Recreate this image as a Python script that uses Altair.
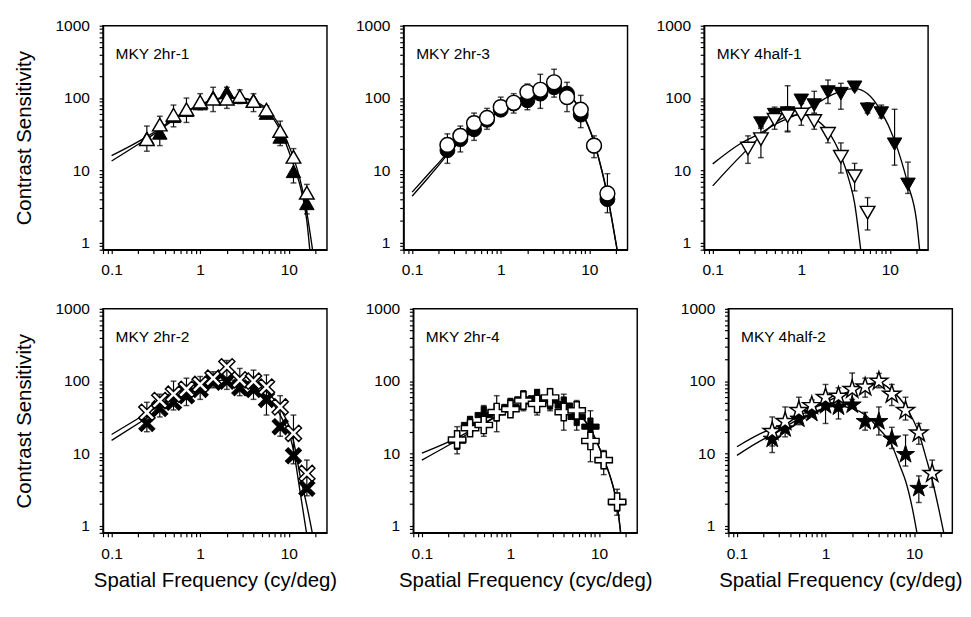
import altair as alt
import pandas as pd

FONT = "Liberation Sans"

FREQ = [0.25, 0.35, 0.5, 0.7, 1, 1.4, 2, 2.8, 4, 5.6, 8, 11.3, 16]

X_MAJOR = [0.1, 1, 10]
X_MINOR = [0.08, 0.09, 0.2, 0.3, 0.4, 0.5, 0.6, 0.7, 0.8, 0.9,
           2, 3, 4, 5, 6, 7, 8, 9, 20]
Y_MAJOR = [1, 10, 100, 1000]
Y_MINOR = [0.8, 0.9, 2, 3, 4, 5, 6, 7, 8, 9, 20, 30, 40, 50, 60, 70, 80, 90,
           200, 300, 400, 500, 600, 700, 800, 900]
X_DOMAIN = [0.08, 27]
Y_DOMAIN = [0.8, 1000]

PANEL_NAMES = ["MKY 2hr-1", "MKY 2hr-3", "MKY 4half-1",
               "MKY 2hr-2", "MKY 2hr-4", "MKY 4half-2"]
X_TITLES = ["Spatial Frequency (cy/deg)", "Spatial Frequency (cyc/deg)",
            "Spatial Frequency (cy/deg)"]
Y_TITLE = "Contrast Sensitivity"

# ---------------- Panel 1: MKY 2hr-1 (triangles up)
P1_FILLED = [28, 33, 56, 68, 84, 103, 121, 103, 94, 62, 29, 9.7, 3.5]
P1_OPEN = [27, 43, 59, 70, 89, 98, 98, 106, 91, 69, 35, 15.4, 4.9]
P1_OPEN_LO = [18.4, 22, 40, 46, 69, 65, 72, 84, 65, 55, 22, 6.7, 2.5]
P1_OPEN_HI = [41, 56, 80, 100, 115, 141, 141, 130, 115, 78, 48, 20, 6.4]
P1_FIT_OPEN_X = [0.1, 0.2, 0.35, 0.5, 0.7, 1, 1.4, 2, 2.8, 4, 5.6, 8, 11.3, 13.4, 16, 18.6]
P1_FIT_OPEN_Y = [16, 25, 38, 52, 66, 82, 95, 102, 101, 92, 72, 40, 15, 7.5, 2.6, 0.78]
P1_FIT_FILLED_X = [0.1, 0.2, 0.35, 0.5, 0.7, 1, 1.4, 2, 2.8, 4, 5.6, 8, 11.3, 13.4, 16, 17.3]
P1_FIT_FILLED_Y = [13.5, 23, 36, 50, 64, 80, 93, 100, 99, 89, 68, 36, 12, 6.2, 2.0, 0.78]

# ---------------- Panel 2: MKY 2hr-3 (circles)
P2_FILLED = [19, 27, 37, 50, 69, 84, 93, 115, 141, 115, 59, 22, 4.0]
P2_OPEN = [22.5, 30, 45, 53, 75, 86, 121, 130, 165, 103, 69, 22, 4.8]
P2_OPEN_LO = [12.5, 18, 26, 37, 56, 62, 69, 72, 103, 65, 39, 15, 2.6]
P2_OPEN_HI = [32, 41, 62, 72, 103, 115, 156, 213, 250, 165, 109, 30, 9]
P2_FIT_X = [0.1, 0.15, 0.2, 0.25, 0.35, 0.5, 0.7, 1, 1.4, 2, 2.8, 4, 5.6, 8, 11.3, 14, 16, 18, 20.7]
P2_FIT_OPEN_Y = [5.0, 8.7, 12.8, 17.5, 26, 38, 51, 68, 86, 106, 124, 130, 114, 68, 25, 9.5, 4.6, 2.1, 0.78]
P2_FIT_FILLED_Y = [4.4, 7.8, 11.8, 16.5, 25, 37, 50, 67, 85, 105, 123, 129, 113, 67, 24.5, 9.3, 4.5, 2.05, 0.76]

# ---------------- Panel 3: MKY 4half-1 (triangles down)
P3_FILLED = [None, 45, 59, 62, 93, 80, 121, 115, 141, 70, 62, 23, 6.4]
P3_FILLED_LO = [None, 40, 48, 35, 62, 62, 84, 70, 127, 62, 53, 11.8, 4.8]
P3_FILLED_HI = [None, 50, 75, 148, 109, 124, 178, 160, 156, 86, 80, 70, 13]
P3_OPEN = [20, 27, 50, 56, 59, 48, 32, 15.4, 8.3, 2.6, None, None, None]
P3_OPEN_LO = [12.5, 15, 37, 34, 42, 37, 24, 9.2, 5.2, 1.5, None, None, None]
P3_OPEN_HI = [30, 38, 65, 76, 84, 60, 39, 24, 12.5, 4.2, None, None, None]
P3_FIT_FILLED_X = [0.1, 0.2, 0.35, 0.5, 0.7, 1, 1.4, 2, 2.8, 4, 5.6, 8, 11.3, 16, 20, 21.7]
P3_FIT_FILLED_Y = [12.3, 23, 33, 43, 52, 63, 80, 104, 125, 135, 115, 65, 26, 6.4, 2.0, 0.78]
P3_FIT_OPEN_X = [0.1, 0.15, 0.25, 0.35, 0.5, 0.7, 1, 1.4, 2, 2.8, 3.5, 4, 4.4, 4.7]
P3_FIT_OPEN_Y = [6.1, 10.5, 20, 30, 45, 56, 59, 52, 35, 16, 7, 3.5, 1.5, 0.78]

# ---------------- Panel 4: MKY 2hr-2 (X marks)
P4_FILLED = [26, 42, 51, 63, 77, 97, 100, 81, 77, 56, 23.5, 9.3, 3.3]
P4_OPEN = [37, 54, 66, 77, 90, 110, 158, 104, 100, 83, 44, 19, 5.3]
P4_OPEN_LO = [20, 32, 40, 46, 56, 81, 77, 63, 56, 34, 17.3, 7.2, 2.6]
P4_OPEN_HI = [51, 66, 100, 110, 116, 135, 193, 150, 142, 122, 63, 34, 8.1]
P4_FIT_OPEN_X = [0.1, 0.25, 0.5, 0.7, 1, 1.4, 2, 2.8, 4, 5.6, 8, 11.3, 13.4, 16, 18.5]
P4_FIT_OPEN_Y = [18.3, 36, 60, 73, 87, 98, 104, 102, 92, 72, 42, 15, 5.0, 1.9, 0.78]
P4_FIT_FILLED_X = [0.1, 0.25, 0.5, 0.7, 1, 1.4, 2, 2.8, 4, 5.6, 8, 11.3, 13.4, 15.9]
P4_FIT_FILLED_Y = [15.2, 31, 53, 65, 78, 88, 94, 92, 82, 62, 34, 11, 3.0, 0.78]

# ---------------- Panel 5: MKY 2hr-4 (crosses)
P5_FILLED = [15, 24.8, 34, 37, 44, 56, 58, 54, 46, 32, 23.5, 8.1, 2.1]
P5_OPEN = [15.6, 22.4, 24.8, 37.4, 41, 54, 48.6, 59.5, 37.4, 39.4, 14.9, 8.1, 2.15]
P5_OPEN_LO = [9.9, 17.3, 17.3, 20, 32, 39, 34, 39, 21, 21, 7.7, 5.1, 1.4]
P5_OPEN_HI = [23.5, 32, 46, 63, 56, 73, 77, 79, 66, 54, 39, 11, 3.2]
P5_FIT_X = [0.1, 0.2, 0.25, 0.35, 0.5, 0.7, 1, 1.4, 2, 2.8, 4, 5.6, 8, 11.3, 14, 16, 17.6]
P5_FIT_OPEN_Y = [10.1, 14.5, 16.5, 20.5, 26, 33, 40, 47, 53, 55, 50, 38, 22, 8.5, 4, 2.0, 0.78]
P5_FIT_FILLED_Y = [8.1, 13, 15.2, 19.5, 25.5, 32.5, 39.5, 46.5, 52.5, 54.5, 49.5, 37.5, 21.7, 8.4, 3.95, 1.97, 0.77]

# ---------------- Panel 6: MKY 4half-2 (stars)
P6_FILLED = [15.8, 22, 30, 36, 46, 44, 47, 27.7, 27.7, 15.9, 9.7, 3.3, None]
P6_FILLED_LO = [10.3, None, None, None, 26, 30, None, 21, 18, 11.7, 6.7, 2.1, None]
P6_FILLED_HI = [18, None, None, None, 60, 63, None, 37, 44, 23, 18, 4.9, None]
P6_OPEN = [20.2, 27.7, 39.4, 46, 59.5, 62, 77, 83, 100, 66, 39.4, 19.2, 5.3]
P6_OPEN_LO = [12.7, 17, 25, 35, 41, 44, 56, 60, 81, 46, 29, 13.4, 3.4]
P6_OPEN_HI = [32, 44, 60, 55, 90, 81, 130, 110, 128, 90, 60, 26, 8.1]
P6_FIT_OPEN_X = [0.1, 0.2, 0.25, 0.5, 0.7, 1, 1.4, 2, 2.8, 4, 5.6, 8, 11.3, 13.8, 16, 19, 21.7]
P6_FIT_OPEN_Y = [12.4, 19.7, 22, 33, 41, 51, 62, 75, 88, 95, 74, 45, 19, 8.3, 4.3, 1.7, 0.78]
P6_FIT_FILLED_X = [0.1, 0.2, 0.25, 0.5, 0.7, 1, 1.4, 2, 2.8, 4, 5.6, 7, 8, 9.5, 10.8]
P6_FIT_FILLED_Y = [9.4, 15.8, 18, 30, 36, 43, 45, 42, 34, 22, 13, 6.5, 4.2, 1.8, 0.78]

# marker outlines (unit square -1..1)
STAR = ("M0,-1L0.2245,-0.309L0.9511,-0.309L0.3633,0.118L0.5878,0.809L0,0.382"
        "L-0.5878,0.809L-0.3633,0.118L-0.9511,-0.309L-0.2245,-0.309Z")
PLUS = ("M-0.3,-1L0.3,-1L0.3,-0.3L1,-0.3L1,0.3L0.3,0.3L0.3,1L-0.3,1"
        "L-0.3,0.3L-1,0.3L-1,-0.3L-0.3,-0.3Z")
THIN_PLUS = ("M-0.21,-1L0.21,-1L0.21,-0.21L1,-0.21L1,0.21L0.21,0.21L0.21,1L-0.21,1"
             "L-0.21,0.21L-1,0.21L-1,-0.21L-0.21,-0.21Z")

W = 231
H = 231
TICK_LEN = 4
POW10 = "abs(log(datum.value)/LN10 - round(log(datum.value)/LN10)) < 0.001"


def make_axis(orient, ticks, title, title_pad):
    kw = dict(orient=orient, values=ticks, grid=False, tickSize=TICK_LEN,
              tickColor="black", tickWidth=1.2, domainColor="black", domainWidth=1.5,
              labelOverlap=False, labelFlush=False, format="~g",
              labelExpr=POW10 + " ? datum.label : ''",
              labelFont=FONT, labelFontSize=16, labelColor="black",
              labelPadding=10 if orient == "left" else 9,
              titleFont=FONT, titleFontSize=21, titleFontWeight="normal", titleColor="black")
    if title:
        kw["title"] = title
        kw["titlePadding"] = title_pad
    else:
        kw["title"] = None
    return alt.Axis(**kw)


def series_df(values, lo, hi, name):
    rows = []
    for i, f in enumerate(FREQ):
        v = values[i]
        if v is None:
            continue
        rows.append({"f": f, "v": v,
                     "lo": lo[i] if lo is not None else None,
                     "hi": hi[i] if hi is not None else None,
                     "series": name})
    return pd.DataFrame(rows)


def panel(name, filled, f_lo, f_hi, open_, o_lo, o_hi, fits, shape, size, angle,
          ytitle, xtitle):
    xs = alt.Scale(type="log", domain=X_DOMAIN)
    ys = alt.Scale(type="log", domain=Y_DOMAIN)

    fit_rows = []
    for cid, (fx, fy) in enumerate(fits):
        for a, b in zip(fx, fy):
            fit_rows.append({"f": a, "v": b, "curve": cid})
    fit_df = pd.DataFrame(fit_rows)

    fdf = series_df(filled, f_lo, f_hi, "filled")
    odf = series_df(open_, o_lo, o_hi, "open")
    pts = pd.concat([fdf, odf], ignore_index=True)
    err = pts.dropna(subset=["lo", "hi"])
    caps = pd.concat([
        pd.DataFrame({"f": err["f"], "v": err["lo"]}),
        pd.DataFrame({"f": err["f"], "v": err["hi"]}),
    ], ignore_index=True)

    def X(fld="f:Q"):
        return alt.X(fld, scale=xs, axis=None)

    def Y(fld="v:Q"):
        return alt.Y(fld, scale=ys, axis=None)

    curves = alt.Chart(fit_df).mark_line(
        color="black", strokeWidth=1.4, clip=True, interpolate="monotone"
    ).encode(
        x=alt.X("f:Q", scale=xs, axis=make_axis("bottom", X_MAJOR + X_MINOR, xtitle, 9)),
        y=alt.Y("v:Q", scale=ys, axis=make_axis("left", Y_MAJOR + Y_MINOR, ytitle, 21)),
        detail="curve:N",
    )
    rules = alt.Chart(err).mark_rule(color="black", strokeWidth=1.2).encode(
        x=X(), y=Y("lo:Q"), y2="hi:Q")
    capm = alt.Chart(caps).mark_tick(
        color="black", orient="horizontal", size=6, thickness=1.5).encode(x=X(), y=Y())
    fmarks = alt.Chart(fdf).mark_point(
        shape=shape, filled=True, fill="black", stroke="black", strokeWidth=1,
        size=size, angle=angle, opacity=1).encode(x=X(), y=Y())
    omarks = alt.Chart(odf).mark_point(
        shape=shape, filled=True, fill="white", stroke="black", strokeWidth=1.5,
        size=size, angle=angle, opacity=1).encode(x=X(), y=Y())
    label = alt.Chart(pd.DataFrame({"label": [name]})).mark_text(
        align="left", baseline="middle", font=FONT, fontSize=16, color="black"
    ).encode(x=alt.value(13), y=alt.value(29), text="label:N")

    return alt.layer(curves, rules, capm, fmarks, omarks, label).resolve_axis(
        x="independent", y="independent").properties(width=W, height=H)


p1 = panel(PANEL_NAMES[0], P1_FILLED, None, None, P1_OPEN, P1_OPEN_LO, P1_OPEN_HI,
           [(P1_FIT_OPEN_X, P1_FIT_OPEN_Y), (P1_FIT_FILLED_X, P1_FIT_FILLED_Y)],
           "triangle-up", 225, 0, Y_TITLE, None)
p2 = panel(PANEL_NAMES[1], P2_FILLED, None, None, P2_OPEN, P2_OPEN_LO, P2_OPEN_HI,
           [(P2_FIT_X, P2_FIT_OPEN_Y), (P2_FIT_X, P2_FIT_FILLED_Y)],
           "circle", 235, 0, None, None)
p3 = panel(PANEL_NAMES[2], P3_FILLED, P3_FILLED_LO, P3_FILLED_HI, P3_OPEN, P3_OPEN_LO, P3_OPEN_HI,
           [(P3_FIT_FILLED_X, P3_FIT_FILLED_Y), (P3_FIT_OPEN_X, P3_FIT_OPEN_Y)],
           "triangle-down", 225, 0, None, None)
p4 = panel(PANEL_NAMES[3], P4_FILLED, None, None, P4_OPEN, P4_OPEN_LO, P4_OPEN_HI,
           [(P4_FIT_OPEN_X, P4_FIT_OPEN_Y), (P4_FIT_FILLED_X, P4_FIT_FILLED_Y)],
           THIN_PLUS, 380, 45, Y_TITLE, X_TITLES[0])
p5 = panel(PANEL_NAMES[4], P5_FILLED, None, None, P5_OPEN, P5_OPEN_LO, P5_OPEN_HI,
           [(P5_FIT_X, P5_FIT_OPEN_Y), (P5_FIT_X, P5_FIT_FILLED_Y)],
           PLUS, 320, 0, None, X_TITLES[1])
p6 = panel(PANEL_NAMES[5], P6_FILLED, P6_FILLED_LO, P6_FILLED_HI, P6_OPEN, P6_OPEN_LO, P6_OPEN_HI,
           [(P6_FIT_OPEN_X, P6_FIT_OPEN_Y), (P6_FIT_FILLED_X, P6_FIT_FILLED_Y)],
           STAR, 380, 0, None, X_TITLES[2])

row1 = alt.hconcat(p1, p2, p3, spacing=27)
row2 = alt.hconcat(p4, p5, p6, spacing=27)
chart = alt.vconcat(row1, row2, spacing=22).properties(
    padding={"left": 5, "top": 0, "right": 0, "bottom": 0},
    background="white",
).configure_view(stroke="black", strokeWidth=1.5)

chart.save("out.html", embed_options={"renderer": "svg", "actions": False})
